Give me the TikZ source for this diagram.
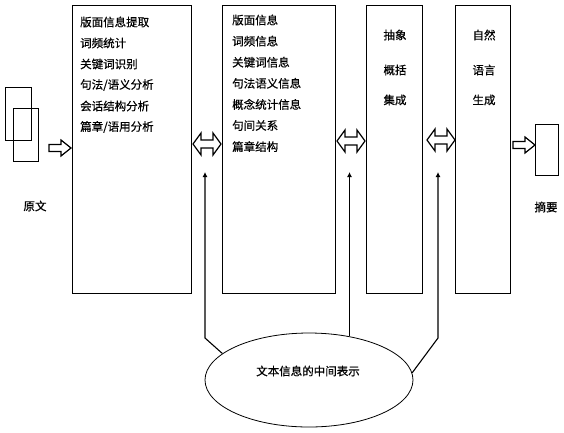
\documentclass[tikz,border=0pt]{standalone}
\usepackage{fontspec}
\newfontfamily\cjk[FakeBold=0.6]{Noto Sans CJK SC}
\usetikzlibrary{arrows.meta,shapes.geometric,calc}
\begin{document}
\begin{tikzpicture}[x=1pt,y=-1pt,
  box/.style={draw,line width=0.8pt,rectangle,anchor=north west,inner sep=0,minimum height=288pt,minimum width=#1},
  doc/.style={draw,line width=0.8pt,rectangle,anchor=north west,inner sep=0,minimum width=#1},
  txt/.style={font=\cjk\fontsize{11.5}{13}\selectfont,inner sep=0},
  conn/.style={line width=1.1pt,-{Latex[length=5pt,width=5pt]}},
  hollow/.style={draw,line width=1.2pt,fill=white,line join=miter},
  dblarr/.pic={\path[hollow] (-14,0) -- (-6,-11) -- (-6,-4) -- (6,-4) -- (6,-11) -- (14,0) -- (6,11) -- (6,4) -- (-6,4) -- (-6,11) -- cycle;},
  rarr/.pic={\path[hollow] (-11,-3.5) -- (1,-3.5) -- (1,-8) -- (11,0) -- (1,8) -- (1,3.5) -- (-11,3.5) -- cycle;}
]
\useasboundingbox (0,0) rectangle (564,432);
% source documents
\node[doc=26pt,minimum height=53pt] (srcA) at (5,87) {};
\node[doc=25pt,minimum height=53pt] (srcB) at (13,108) {};
\node[txt] (lsrc) at (35,206) {原文};
% boxes
\node[box=119pt] (b1) at (72,5) {};
\node[box=113pt] (b2) at (222,5) {};
\node[box=56pt] (b3) at (366,5) {};
\node[box=55pt] (b4) at (455,5) {};
% box 1 text
\foreach \t [count=\i] in {版面信息提取,词频统计,关键词识别,句法/语义分析,会话结构分析,篇章/语用分析}
  \node[txt,anchor=west] (b1t\i) at (80,{22+21*(\i-1)}) {\t};
% box 2 text
\foreach \t [count=\i] in {版面信息,词频信息,关键词信息,句法语义信息,概念统计信息,句间关系,篇章结构}
  \node[txt,anchor=west] (b2t\i) at (232,{20+21.1*(\i-1)}) {\t};
% box 3, 4 text
\node[txt] (b3t1) at (395,35) {抽象};
\node[txt] (b3t2) at (395,70) {概括};
\node[txt] (b3t3) at (395,100) {集成};
\node[txt] (b4t1) at (484,35) {自然};
\node[txt] (b4t2) at (484,70) {语言};
\node[txt] (b4t3) at (484,100) {生成};
% output document
\node[doc=23pt,minimum height=51pt] (out) at (535,124) {};
\node[txt] (lout) at (546,207) {摘要};
% hollow arrows
\pic at (60,148) {rarr};
\pic at (207,144) {dblarr};
\pic at (351,141) {dblarr};
\pic at (441,140) {dblarr};
\pic at (524,145) {rarr};
% intermediate representation
\node[draw,line width=0.8pt,ellipse,minimum width=208pt,minimum height=94pt,inner sep=0] (ell) at (309,380) {};
\node[txt] (elt) at (308,371) {文本信息的中间表示};
\coordinate (k1) at (205,338);
\coordinate (t1) at (205,172);
\coordinate (t2) at (349.5,172);
\coordinate (k3) at (438,338);
\coordinate (t3) at (438,172);
\draw[conn] (ell.163.5) -- (k1) -- (t1);
\draw[conn] (ell.47 -| t2) -- (t2);
\draw[conn] (ell.4) -- (k3) -- (t3);
\end{tikzpicture}
\end{document}
